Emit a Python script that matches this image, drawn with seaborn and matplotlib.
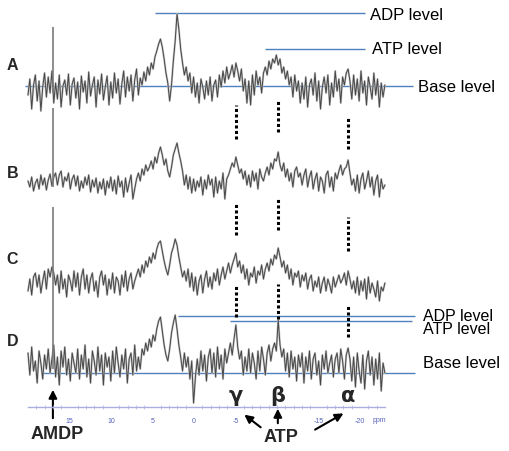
import numpy as np
import pandas as pd
import matplotlib
matplotlib.use("Agg")
import matplotlib.pyplot as plt
import seaborn as sns

# ---- data (intensities, arbitrary units) ----
spectra = ["A", "B", "C", "D"]
offsets = [362, 268, 168, 86]          # vertical stacking of the spectra

trace_a = [-6, 10, -20, 4, 14, -12, 8, -22, 2, 16, -8, 12, -4, 18, -14,
           6, -10, 14, -18, 3, 9, -6, 15, -16, 5, 11, -9, 7, -20, 13,
           -3, 8, -14, 17, -7, 4, 12, -18, 9, -5, 15, -11, 2, 13, -16,
           7, -9, 16, -4, 10, -15, 5, 18, -8, 12, -2, 14, -12, 9, 20,
           -6, 11, 4, 17, 8, 22, 14, 26, 20, 32, 38, 45, 50, 42, 30,
           16, 6, -12, 4, 28, 48, 75, 60, 40, 26, 14, 22, 8, 16, -4,
           12, -8, 6, -14, 10, 2, -10, 8, -6, 12, -12, 4, 9, -8, 14,
           2, 18, 6, 22, 10, 16, 24, 12, 26, 18, 8, 20, -2, 10, -14,
           8, -16, 14, -6, 18, 4, 12, -4, 16, 22, 14, 28, 20, 30, 26,
           34, 24, 30, 16, 22, 10, 18, 4, 12, -8, 14, -2, 8, -14, 6,
           -10, 12, -18, 4, 10, -6, 16, -12, 8, -20, 2, 12, -4, 14, -16,
           6, -8, 18, -2, 10, -14, 12, 4, 16, 20, 8, -10, 14, -6, 10,
           -12, 18, -4, 8, -16, 12, 2, -10, 16, -6, 10, -18, 6, -8, 4]
trace_b = [2, -4, 6, -8, 0, 4, -6, 8, -2, 5, -7, 3, 9, -3, 6,
           10, -2, 8, 12, -4, 6, 2, 10, -6, 4, 8, -3, 7, -8, 2,
           -5, 6, -2, 8, -9, 3, -4, 5, -10, 1, -6, 4, -12, 2, -5,
           6, -8, 3, -11, 7, -4, 2, -14, 5, -9, 0, 8, -16, -6, 4,
           10, 2, 14, 8, 18, 12, 16, 22, 14, 26, 20, 30, 36, 28, 18,
           24, 12, 6, 16, 28, 34, 40, 30, 22, 12, -2, 8, -6, 6, -10,
           4, -8, 2, -4, 6, -12, 3, -6, 8, -2, 4, -14, 6, -10, 2,
           -6, 10, -16, 4, 8, 14, 20, 16, 26, 18, 10, 14, 4, 12, -2,
           8, -4, 12, 2, 10, -6, 14, 6, 2, 10, 16, 8, 20, 14, 24,
           22, 31, 18, 12, 20, 6, 14, 2, 10, -4, 12, 16, 6, 10, -2,
           8, 14, -4, 6, 12, -6, 4, 10, -8, 6, 2, -10, 8, 12, -4,
           6, -8, 10, 4, 12, 18, 8, 14, 16, 23, 10, -2, 4, -8, 8,
           -10, 4, 10, -6, 2, 12, -4, 6, -12, 2, 8, -14, 4, -6, -2]
trace_c = [-8, 4, -12, 6, 10, -4, 8, -10, 2, 12, -6, 14, 6, 16, 10,
           -2, 8, -10, 12, -6, 4, -14, 8, 2, -8, 12, -4, 10, -12, 6,
           14, -6, 8, -10, 4, 10, -8, 2, -14, 6, 12, -2, 8, -12, 4,
           -6, 10, -10, 6, 2, -12, 8, -4, 12, -8, 4, 10, -6, 2, 8,
           14, 6, 18, 10, 22, 16, 26, 20, 30, 24, 34, 40, 42, 32, 22,
           14, 8, 18, 30, 36, 44, 38, 26, 16, 6, 12, 2, 14, -4, 10,
           -8, 6, -12, 2, 8, -10, 4, 12, -4, 6, -6, 10, 2, 14, -2,
           8, 16, 4, 12, 20, 10, 18, 24, 30, 16, 22, 10, 18, 4, 14,
           -2, 10, 6, 16, 0, 12, 8, 18, 4, 14, 20, 12, 24, 18, 28,
           24, 35, 26, 16, 22, 10, 18, 4, 14, -2, 10, 6, 12, -4, 8,
           2, 10, -6, 4, 8, -8, 2, -4, 6, -10, 0, 6, -8, 4, -2,
           -10, 6, -4, 2, 8, 0, 4, 10, -2, 12, 4, -6, 2, -10, 6,
           -12, 2, -8, 4, -16, 6, -10, 0, -6, -14, 2, -18, -4, -8, 0]
trace_d = [12, -10, 18, -6, 4, -18, 14, 2, -14, 10, -4, 16, -8, 6, 20,
           -12, 8, -20, 14, -2, 18, -10, 6, -16, 12, 2, -8, 16, -14, 10,
           -4, 20, -12, 6, -18, 14, 4, -10, 18, -6, 10, -20, 12, -2, 8,
           -16, 14, -8, 18, 2, -12, 10, -4, 16, -18, 6, 12, -10, 20, -6,
           8, -4, 16, 10, 22, 14, 26, 18, 30, 24, 36, 44, 48, 34, 20,
           10, 4, 16, 32, 42, 50, 36, 20, 8, -6, 12, -2, 8, -14, 4,
           -38, -12, 6, -10, 14, -6, 10, -16, 8, 16, -8, 12, -12, 18, -4,
           10, -14, 16, 2, 12, 22, 10, 26, 40, 18, 6, 14, -10, 8, -6,
           16, -8, 12, 2, -14, 14, -6, 18, 6, -10, 12, 20, 4, 16, 22,
           14, 45, 20, 8, 16, -6, 12, -12, 14, -4, 8, -16, 10, -2, 12,
           -18, 8, -6, 14, -14, 6, 12, -10, 4, -20, 10, -4, 14, -8, 2,
           10, -12, 6, 12, -8, 16, 4, -14, 10, 17, 6, -16, 8, -22, 12,
           -6, -18, 10, -24, 4, 14, -10, 8, -20, 6, -14, 12, -26, 2, -8]
traces = [trace_a, trace_b, trace_c, trace_d]
ppm_start, ppm_end = 20, -23

# sharp AMDP reference spike
amdp_ppm = 17.0
amdp_top = [62, 75, 76, 78]

# peak positions (ppm)
peak_names = ["\u03b3", "\u03b2", "\u03b1"]
peak_ppm = [-5.05, -10.1, -18.6]
# dotted guide segments between spectra (bottom, top) for each peak
dot_segments = [
    [(312, 346), (319, 352), (302, 334)],
    [(216, 248), (221, 252), (200, 234)],
    [(134, 167), (132, 167), (114, 147)],
]

# level lines: (y, ppm from, ppm to)
levels_a = [(438, 4.7, -20.6), (402, -8.5, -20.6), (365, 20.4, -26.4)]
levels_d = [(135, 1.9, -26.6), (130, -4.3, -26.3), (78, 18.2, -26.6)]
# level labels: (text, ppm, y, size)
level_labels = [("ADP level", -21.2, 436, 12),
                ("ATP level", -21.4, 403, 12),
                ("Base level", -27.0, 365, 12),
                ("ADP level\nATP level", -27.6, 129, 11.5),
                ("Base level", -27.6, 88, 12)]

axis_ticks = [15, 10, 5, 0, -5, -15, -20]

# ---- build long table ----
ppm = np.linspace(ppm_start, ppm_end, len(trace_a))
frames = []
for name, off, tr in zip(spectra, offsets, traces):
    frames.append(pd.DataFrame({"ppm": ppm, "intensity": np.array(tr) + off,
                                "spectrum": name}))
df = pd.concat(frames, ignore_index=True)

sns.set_style("white")
plt.rcParams["font.family"] = ["Liberation Sans", "DejaVu Sans"]

fig = plt.figure(figsize=(5.09, 4.52), dpi=100)
ax = fig.add_axes([0, 0, 1, 1])

# level lines (behind the traces)
for y, x0, x1 in levels_a + levels_d:
    ax.hlines(y, x0, x1, color="#4f81bd", linewidth=1.0, zorder=1)
for txt, tx, ty, fs in level_labels:
    ax.text(tx, ty, txt, fontsize=fs, va="center", ha="left", color="black",
            linespacing=0.85)

grey = {s: "#c4c4c4" for s in spectra}
dark = {s: "#474747" for s in spectra}
sns.lineplot(data=df, x="ppm", y="intensity", hue="spectrum", palette=grey,
             estimator=None, sort=False, linewidth=1.5, legend=False, ax=ax)
sns.lineplot(data=df, x="ppm", y="intensity", hue="spectrum", palette=dark,
             estimator=None, sort=False, linewidth=0.7, legend=False, ax=ax)

# AMDP spikes
for off, top in zip(offsets, amdp_top):
    ax.vlines(amdp_ppm, off - 4, off + top, color="#7a7a7a", linewidth=1.2)

# dotted guides
for seg_row in dot_segments:
    for p, (y0, y1) in zip(peak_ppm, seg_row):
        ax.vlines(p, y0, y1, color="black", linewidth=2.2,
                  linestyles=(0, (1, 0.8)))

# spectrum letters
letter_y = [387, 279, 192, 110]
for s, y in zip(spectra, letter_y):
    ax.text(21.9, y, s, fontsize=11.5, fontweight="bold", ha="center", va="center")

# greek labels
for n, p in zip(peak_names, peak_ppm):
    ax.text(p, 56, n, fontsize=15, fontweight="bold", ha="center", va="center",
            family=["DejaVu Sans"])

# arrows
arrow = dict(arrowstyle="-|>", color="black", lw=1.5, mutation_scale=12)
ax.annotate("", xy=(amdp_ppm, 64), xytext=(amdp_ppm, 30), arrowprops=arrow)
ax.annotate("", xy=(-10.1, 45), xytext=(-10.1, 25), arrowprops=arrow)
ax.annotate("", xy=(-5.8, 38), xytext=(-8.3, 22), arrowprops=arrow)
ax.annotate("", xy=(-18.3, 39), xytext=(-14.3, 20), arrowprops=arrow)
ax.text(16.5, 17, "AMDP", fontsize=13, fontweight="bold", ha="center", va="center")
ax.text(-10.5, 14, "ATP", fontsize=13, fontweight="bold", ha="center", va="center")

ax.set_xlim(194 / 8.3, (194 - 509) / 8.3)
ax.set_ylim(0, 452)
ax.axis("off")

# ppm scale
sc = fig.add_axes([28 / 509, 44 / 452, 357 / 509, 0.0001])
sc.set_xlim(ppm_start, ppm_end)
sc.set_yticks([])
for side in ["top", "left", "right"]:
    sc.spines[side].set_visible(False)
sc.spines["bottom"].set_color("#a9aee0")
sc.spines["bottom"].set_linewidth(1.0)
sc.set_facecolor("none")
sc.set_xticks(axis_ticks)
sc.set_xticklabels([str(t) for t in axis_ticks])
sc.set_xticks(np.arange(ppm_end + 1, ppm_start, 1), minor=True)
sc.tick_params(axis="x", which="major", direction="inout", length=4, width=0.6,
               color="#a9aee0", labelsize=5, labelcolor="#5563b8", pad=5)
sc.tick_params(axis="x", which="minor", direction="inout", length=2.5, width=0.5,
               color="#a9aee0", bottom=True)
ax.text(-22.3, 31, "ppm", fontsize=5, color="#5563b8", ha="center", va="center")

fig.savefig("out.png", dpi=100)
